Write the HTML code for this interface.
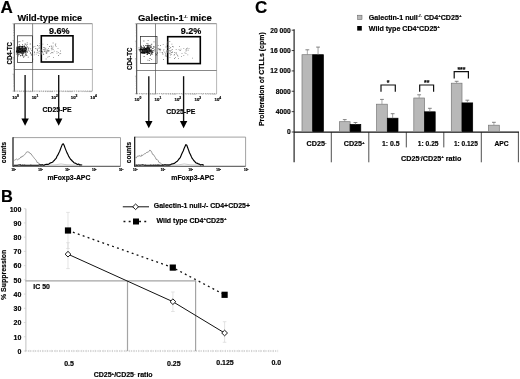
<!DOCTYPE html>
<html><head><meta charset="utf-8"><title>Figure</title>
<style>html,body{margin:0;padding:0;background:#fff;overflow:hidden}svg{display:block}svg text{font-family:"Liberation Sans",sans-serif;font-weight:bold;fill:#000;stroke:#000;stroke-width:0.18px}</style>
</head><body>
<svg width="520" height="379" viewBox="0 0 520 379">
<rect width="520" height="379" fill="#fff"/>
<g id="fig" style="filter:blur(0.3px)">
<text x="0.6" y="12.7" font-size="17.0">A</text>
<text x="1.0" y="201.5" font-size="16.4">B</text>
<text x="255.0" y="13.2" font-size="17.0">C</text>
<line x1="14.3" y1="23.7" x2="14.3" y2="91.6" stroke="#222" stroke-width="0.9"/>
<line x1="14.3" y1="23.7" x2="92.39999999999999" y2="23.7" stroke="#666" stroke-width="0.8"/>
<line x1="92.39999999999999" y1="23.7" x2="92.39999999999999" y2="91.1" stroke="#999" stroke-width="0.7"/>
<line x1="14.3" y1="91.1" x2="92.39999999999999" y2="91.1" stroke="#888" stroke-width="0.8" stroke-dasharray="1.4 0.8"/>
<line x1="32.6" y1="23.7" x2="32.6" y2="91.1" stroke="#555" stroke-width="0.7"/>
<line x1="14.3" y1="69.5" x2="92.39999999999999" y2="69.5" stroke="#555" stroke-width="0.7"/>
<rect x="17.50" y="35.80" width="15.00" height="26.70" fill="none" stroke="#222" stroke-width="0.7"/>
<rect x="41.30" y="35.80" width="31.70" height="26.20" fill="none" stroke="#000" stroke-width="1.6"/>
<path d="M20.8 51.6h1.00v1.00h-1.00zM18.3 51.2h1.00v1.00h-1.00zM20.0 49.1h1.00v1.00h-1.00zM25.3 49.8h1.00v1.00h-1.00zM20.5 50.7h1.00v1.00h-1.00zM23.4 49.4h1.00v1.00h-1.00zM22.1 47.8h1.00v1.00h-1.00zM19.7 48.8h1.00v1.00h-1.00zM17.3 46.9h1.00v1.00h-1.00zM16.5 49.1h1.00v1.00h-1.00zM20.2 49.0h1.00v1.00h-1.00zM20.8 47.2h1.00v1.00h-1.00zM20.4 49.9h1.00v1.00h-1.00zM22.5 48.1h1.00v1.00h-1.00zM19.6 46.1h1.00v1.00h-1.00zM19.3 45.8h1.00v1.00h-1.00zM17.1 51.4h1.00v1.00h-1.00zM17.3 50.9h1.00v1.00h-1.00zM21.7 50.0h1.00v1.00h-1.00zM21.9 53.8h1.00v1.00h-1.00zM17.4 50.4h1.00v1.00h-1.00zM19.7 51.4h1.00v1.00h-1.00zM18.8 50.5h1.00v1.00h-1.00zM17.7 48.4h1.00v1.00h-1.00zM23.7 48.0h1.00v1.00h-1.00zM25.0 48.1h1.00v1.00h-1.00zM24.3 49.4h1.00v1.00h-1.00zM23.2 52.4h1.00v1.00h-1.00zM25.9 48.7h1.00v1.00h-1.00zM17.0 48.4h1.00v1.00h-1.00zM21.7 52.6h1.00v1.00h-1.00zM18.8 48.9h1.00v1.00h-1.00zM25.1 50.8h1.00v1.00h-1.00zM21.7 49.5h1.00v1.00h-1.00zM21.4 47.8h1.00v1.00h-1.00zM21.8 50.7h1.00v1.00h-1.00zM21.2 46.1h1.00v1.00h-1.00zM23.9 50.1h1.00v1.00h-1.00zM24.4 50.3h1.00v1.00h-1.00zM18.1 52.6h1.00v1.00h-1.00zM23.5 49.3h1.00v1.00h-1.00zM22.8 49.5h1.00v1.00h-1.00zM23.6 50.6h1.00v1.00h-1.00zM22.2 49.7h1.00v1.00h-1.00zM17.7 50.8h1.00v1.00h-1.00zM21.0 49.9h1.00v1.00h-1.00zM22.1 48.4h1.00v1.00h-1.00zM25.7 48.6h1.00v1.00h-1.00zM18.6 50.8h1.00v1.00h-1.00zM17.0 49.2h1.00v1.00h-1.00zM18.0 48.3h1.00v1.00h-1.00zM16.3 46.7h1.00v1.00h-1.00zM17.9 49.4h1.00v1.00h-1.00zM20.3 48.3h1.00v1.00h-1.00zM18.4 54.0h1.00v1.00h-1.00zM17.5 49.2h1.00v1.00h-1.00zM23.2 49.6h1.00v1.00h-1.00zM20.2 49.3h1.00v1.00h-1.00zM18.0 47.9h1.00v1.00h-1.00zM23.9 50.4h1.00v1.00h-1.00zM16.9 50.0h1.00v1.00h-1.00zM18.2 51.6h1.00v1.00h-1.00zM20.6 49.1h1.00v1.00h-1.00zM24.1 50.4h1.00v1.00h-1.00zM22.5 49.2h1.00v1.00h-1.00zM17.4 50.1h1.00v1.00h-1.00zM19.6 51.0h1.00v1.00h-1.00zM19.7 51.0h1.00v1.00h-1.00zM18.9 48.7h1.00v1.00h-1.00zM17.5 51.5h1.00v1.00h-1.00zM23.8 49.9h1.00v1.00h-1.00zM20.4 48.0h1.00v1.00h-1.00zM21.4 52.5h1.00v1.00h-1.00zM20.7 50.6h1.00v1.00h-1.00zM17.0 50.5h1.00v1.00h-1.00zM22.4 50.4h1.00v1.00h-1.00zM18.2 52.3h1.00v1.00h-1.00zM16.0 50.8h1.00v1.00h-1.00zM21.7 50.8h1.00v1.00h-1.00zM17.6 46.6h1.00v1.00h-1.00zM18.9 49.9h1.00v1.00h-1.00zM22.8 50.9h1.00v1.00h-1.00zM22.2 52.4h1.00v1.00h-1.00zM21.4 48.6h1.00v1.00h-1.00zM19.8 52.5h1.00v1.00h-1.00zM17.8 47.1h1.00v1.00h-1.00zM19.9 50.2h1.00v1.00h-1.00zM19.4 52.4h1.00v1.00h-1.00zM20.3 51.1h1.00v1.00h-1.00zM18.3 50.4h1.00v1.00h-1.00zM15.9 51.6h1.00v1.00h-1.00zM20.7 49.6h1.00v1.00h-1.00zM25.4 48.3h1.00v1.00h-1.00zM23.3 49.4h1.00v1.00h-1.00zM26.0 48.3h1.00v1.00h-1.00zM21.3 52.3h1.00v1.00h-1.00zM22.5 47.4h1.00v1.00h-1.00zM18.5 49.3h1.00v1.00h-1.00zM19.6 50.5h1.00v1.00h-1.00zM23.6 50.4h1.00v1.00h-1.00zM19.5 52.5h1.00v1.00h-1.00zM25.8 50.5h1.00v1.00h-1.00zM18.6 45.9h1.00v1.00h-1.00zM24.9 47.3h1.00v1.00h-1.00zM20.2 49.4h1.00v1.00h-1.00zM20.6 48.5h1.00v1.00h-1.00zM19.5 51.9h1.00v1.00h-1.00zM18.0 49.2h1.00v1.00h-1.00zM23.8 48.6h1.00v1.00h-1.00zM19.6 50.6h1.00v1.00h-1.00zM22.4 48.0h1.00v1.00h-1.00zM21.1 47.9h1.00v1.00h-1.00zM21.6 51.5h1.00v1.00h-1.00zM21.2 48.5h1.00v1.00h-1.00zM22.1 45.8h1.00v1.00h-1.00zM22.2 46.5h1.00v1.00h-1.00zM24.1 49.6h1.00v1.00h-1.00zM21.1 49.1h1.00v1.00h-1.00zM20.3 50.8h1.00v1.00h-1.00zM18.0 49.2h1.00v1.00h-1.00zM16.3 50.0h1.00v1.00h-1.00zM21.4 49.5h1.00v1.00h-1.00zM21.5 50.1h1.00v1.00h-1.00zM26.8 51.4h1.00v1.00h-1.00zM21.2 48.9h1.00v1.00h-1.00zM18.4 49.5h1.00v1.00h-1.00zM19.7 51.0h1.00v1.00h-1.00zM18.6 47.7h1.00v1.00h-1.00zM19.6 50.3h1.00v1.00h-1.00zM20.0 50.3h1.00v1.00h-1.00zM16.9 48.6h1.00v1.00h-1.00zM19.9 50.0h1.00v1.00h-1.00zM21.6 51.0h1.00v1.00h-1.00zM17.1 47.7h1.00v1.00h-1.00zM17.3 51.6h1.00v1.00h-1.00zM18.7 48.2h1.00v1.00h-1.00zM18.6 50.9h1.00v1.00h-1.00zM19.8 47.8h1.00v1.00h-1.00zM19.6 47.7h1.00v1.00h-1.00zM20.7 51.6h1.00v1.00h-1.00zM20.3 48.9h1.00v1.00h-1.00zM18.3 50.3h1.00v1.00h-1.00zM24.9 46.8h1.00v1.00h-1.00zM16.8 52.1h1.00v1.00h-1.00zM21.1 48.2h1.00v1.00h-1.00zM19.4 49.7h1.00v1.00h-1.00zM22.0 47.2h1.00v1.00h-1.00zM24.0 47.5h1.00v1.00h-1.00zM18.6 47.1h1.00v1.00h-1.00zM19.5 49.2h1.00v1.00h-1.00zM20.4 49.4h1.00v1.00h-1.00zM23.3 51.8h1.00v1.00h-1.00zM21.7 49.7h1.00v1.00h-1.00zM24.8 51.5h1.00v1.00h-1.00zM20.8 49.8h1.00v1.00h-1.00zM21.3 48.8h1.00v1.00h-1.00zM22.7 47.4h1.00v1.00h-1.00zM23.8 45.9h1.00v1.00h-1.00zM16.7 48.0h1.00v1.00h-1.00zM24.8 50.2h1.00v1.00h-1.00zM16.6 49.3h1.00v1.00h-1.00zM23.9 51.3h1.00v1.00h-1.00zM21.4 49.3h1.00v1.00h-1.00zM19.2 51.5h1.00v1.00h-1.00zM21.5 48.4h1.00v1.00h-1.00zM21.4 50.7h1.00v1.00h-1.00zM17.5 47.6h1.00v1.00h-1.00zM18.7 50.5h1.00v1.00h-1.00zM18.8 50.5h1.00v1.00h-1.00zM19.7 49.8h1.00v1.00h-1.00zM16.3 49.5h1.00v1.00h-1.00zM20.6 48.5h1.00v1.00h-1.00zM19.1 46.8h1.00v1.00h-1.00zM19.2 47.7h1.00v1.00h-1.00zM17.0 49.7h1.00v1.00h-1.00z" fill="#0a0a0a"/>
<path d="M25.7 48.5h0.80v0.80h-0.80zM29.9 53.3h0.80v0.80h-0.80zM28.4 47.6h0.80v0.80h-0.80zM16.7 51.9h0.80v0.80h-0.80zM25.0 52.5h0.80v0.80h-0.80zM25.5 54.5h0.80v0.80h-0.80zM22.3 52.3h0.80v0.80h-0.80zM19.5 41.3h0.80v0.80h-0.80zM21.6 55.3h0.80v0.80h-0.80zM15.9 53.6h0.80v0.80h-0.80zM20.5 48.3h0.80v0.80h-0.80zM23.8 50.6h0.80v0.80h-0.80zM19.1 50.3h0.80v0.80h-0.80zM25.6 52.9h0.80v0.80h-0.80zM20.1 55.5h0.80v0.80h-0.80zM32.4 58.7h0.80v0.80h-0.80zM17.4 50.4h0.80v0.80h-0.80zM26.2 45.5h0.80v0.80h-0.80zM16.3 50.5h0.80v0.80h-0.80zM26.5 46.9h0.80v0.80h-0.80zM22.4 40.5h0.80v0.80h-0.80zM20.3 50.3h0.80v0.80h-0.80zM24.3 55.7h0.80v0.80h-0.80zM18.4 41.5h0.80v0.80h-0.80zM25.7 47.6h0.80v0.80h-0.80zM24.9 52.5h0.80v0.80h-0.80zM26.4 55.1h0.80v0.80h-0.80zM29.8 43.6h0.80v0.80h-0.80zM23.3 57.2h0.80v0.80h-0.80zM21.7 53.4h0.80v0.80h-0.80zM23.3 48.2h0.80v0.80h-0.80zM30.9 53.7h0.80v0.80h-0.80zM22.5 53.2h0.80v0.80h-0.80zM17.6 47.1h0.80v0.80h-0.80zM27.7 49.9h0.80v0.80h-0.80zM18.7 51.5h0.80v0.80h-0.80zM25.1 54.6h0.80v0.80h-0.80zM28.0 48.8h0.80v0.80h-0.80zM21.4 49.3h0.80v0.80h-0.80zM22.5 55.2h0.80v0.80h-0.80zM30.9 54.8h0.80v0.80h-0.80zM25.3 48.9h0.80v0.80h-0.80zM27.8 48.5h0.80v0.80h-0.80zM24.7 43.6h0.80v0.80h-0.80zM21.7 55.1h0.80v0.80h-0.80zM18.9 44.3h0.80v0.80h-0.80zM22.8 56.0h0.80v0.80h-0.80zM30.3 48.5h0.80v0.80h-0.80zM21.4 49.4h0.80v0.80h-0.80zM19.3 49.9h0.80v0.80h-0.80zM22.2 44.3h0.80v0.80h-0.80zM20.9 48.8h0.80v0.80h-0.80zM19.6 45.7h0.80v0.80h-0.80zM27.8 56.8h0.80v0.80h-0.80zM22.3 48.2h0.80v0.80h-0.80zM25.9 49.0h0.80v0.80h-0.80zM20.0 54.9h0.80v0.80h-0.80zM18.8 47.1h0.80v0.80h-0.80zM20.5 46.5h0.80v0.80h-0.80zM22.5 51.9h0.80v0.80h-0.80zM30.2 52.3h0.80v0.80h-0.80zM23.8 45.2h0.80v0.80h-0.80zM23.3 46.3h0.80v0.80h-0.80zM23.2 53.4h0.80v0.80h-0.80zM24.5 49.0h0.80v0.80h-0.80zM20.1 49.7h0.80v0.80h-0.80zM24.1 46.4h0.80v0.80h-0.80zM21.3 53.1h0.80v0.80h-0.80zM16.0 48.2h0.80v0.80h-0.80zM18.2 55.5h0.80v0.80h-0.80zM26.4 51.7h0.80v0.80h-0.80zM25.4 50.9h0.80v0.80h-0.80zM24.9 43.9h0.80v0.80h-0.80zM24.8 52.0h0.80v0.80h-0.80zM17.0 52.9h0.80v0.80h-0.80zM26.7 44.2h0.80v0.80h-0.80zM21.4 48.7h0.80v0.80h-0.80zM21.2 51.2h0.80v0.80h-0.80zM17.7 49.0h0.80v0.80h-0.80zM24.6 52.5h0.80v0.80h-0.80zM23.8 48.9h0.80v0.80h-0.80zM26.8 42.4h0.80v0.80h-0.80zM27.9 48.7h0.80v0.80h-0.80zM17.8 48.2h0.80v0.80h-0.80zM22.1 46.9h0.80v0.80h-0.80zM27.0 46.5h0.80v0.80h-0.80zM17.6 46.3h0.80v0.80h-0.80zM31.5 49.9h0.80v0.80h-0.80zM20.8 46.1h0.80v0.80h-0.80zM18.5 49.2h0.80v0.80h-0.80zM25.6 54.1h0.80v0.80h-0.80zM28.9 50.8h0.80v0.80h-0.80zM20.6 46.6h0.80v0.80h-0.80z" fill="#3a3a3a"/>
<path d="M47.4 56.8h0.80v0.80h-0.80zM38.5 48.3h0.80v0.80h-0.80zM52.8 49.3h0.80v0.80h-0.80zM43.6 49.4h0.80v0.80h-0.80zM41.0 53.7h0.80v0.80h-0.80zM57.9 52.0h0.80v0.80h-0.80zM42.9 53.6h0.80v0.80h-0.80zM38.5 46.4h0.80v0.80h-0.80zM54.9 44.0h0.80v0.80h-0.80zM50.8 45.6h0.80v0.80h-0.80zM51.4 46.8h0.80v0.80h-0.80zM58.0 55.1h0.80v0.80h-0.80zM55.1 45.0h0.80v0.80h-0.80zM45.8 52.2h0.80v0.80h-0.80zM37.7 51.4h0.80v0.80h-0.80zM40.3 50.5h0.80v0.80h-0.80zM39.3 45.0h0.80v0.80h-0.80zM46.8 50.2h0.80v0.80h-0.80zM44.7 48.4h0.80v0.80h-0.80zM45.4 47.8h0.80v0.80h-0.80zM51.8 48.4h0.80v0.80h-0.80zM56.5 51.3h0.80v0.80h-0.80zM50.9 48.0h0.80v0.80h-0.80zM46.7 52.5h0.80v0.80h-0.80zM48.0 50.1h0.80v0.80h-0.80zM40.5 50.3h0.80v0.80h-0.80zM52.6 52.4h0.80v0.80h-0.80zM40.1 53.0h0.80v0.80h-0.80zM40.5 51.7h0.80v0.80h-0.80zM39.5 53.0h0.80v0.80h-0.80zM34.1 51.6h0.80v0.80h-0.80zM45.9 51.4h0.80v0.80h-0.80zM35.8 53.7h0.80v0.80h-0.80zM44.4 50.6h0.80v0.80h-0.80zM50.4 53.3h0.80v0.80h-0.80zM44.2 51.2h0.80v0.80h-0.80zM34.1 52.4h0.80v0.80h-0.80zM37.2 49.6h0.80v0.80h-0.80zM45.6 52.5h0.80v0.80h-0.80zM43.3 54.1h0.80v0.80h-0.80zM38.2 55.1h0.80v0.80h-0.80zM41.9 51.8h0.80v0.80h-0.80zM52.7 42.6h0.80v0.80h-0.80zM42.5 51.8h0.80v0.80h-0.80zM41.4 49.5h0.80v0.80h-0.80zM48.7 56.1h0.80v0.80h-0.80zM43.3 54.3h0.80v0.80h-0.80zM60.3 52.9h0.80v0.80h-0.80zM47.9 50.9h0.80v0.80h-0.80zM37.1 50.1h0.80v0.80h-0.80zM39.5 51.2h0.80v0.80h-0.80zM49.3 50.4h0.80v0.80h-0.80zM56.6 52.8h0.80v0.80h-0.80zM45.7 58.6h0.80v0.80h-0.80zM53.2 56.9h0.80v0.80h-0.80zM34.5 46.2h0.80v0.80h-0.80zM42.5 43.8h0.80v0.80h-0.80zM37.0 45.1h0.80v0.80h-0.80zM42.3 51.1h0.80v0.80h-0.80zM44.1 48.8h0.80v0.80h-0.80zM43.1 46.9h0.80v0.80h-0.80zM39.6 43.2h0.80v0.80h-0.80zM51.4 49.5h0.80v0.80h-0.80zM47.1 43.9h0.80v0.80h-0.80zM57.6 47.9h0.80v0.80h-0.80zM41.0 52.7h0.80v0.80h-0.80zM52.5 47.5h0.80v0.80h-0.80zM39.5 50.4h0.80v0.80h-0.80zM50.9 46.0h0.80v0.80h-0.80zM44.1 46.9h0.80v0.80h-0.80zM45.9 53.1h0.80v0.80h-0.80zM33.8 54.4h0.80v0.80h-0.80zM45.5 50.4h0.80v0.80h-0.80zM37.3 45.1h0.80v0.80h-0.80zM41.1 52.7h0.80v0.80h-0.80zM55.7 46.2h0.80v0.80h-0.80zM55.4 43.4h0.80v0.80h-0.80zM51.2 52.3h0.80v0.80h-0.80zM43.1 49.2h0.80v0.80h-0.80zM44.3 51.0h0.80v0.80h-0.80zM59.4 53.5h0.80v0.80h-0.80zM37.7 52.7h0.80v0.80h-0.80zM36.7 48.6h0.80v0.80h-0.80zM35.3 48.1h0.80v0.80h-0.80zM39.0 47.4h0.80v0.80h-0.80zM32.9 46.6h0.80v0.80h-0.80zM41.0 52.4h0.80v0.80h-0.80zM47.3 49.6h0.80v0.80h-0.80zM44.6 51.0h0.80v0.80h-0.80zM52.7 45.7h0.80v0.80h-0.80zM46.8 50.9h0.80v0.80h-0.80zM36.6 52.0h0.80v0.80h-0.80zM53.8 50.7h0.80v0.80h-0.80zM60.1 50.6h0.80v0.80h-0.80zM40.2 51.2h0.80v0.80h-0.80zM45.5 49.2h0.80v0.80h-0.80zM40.8 52.3h0.80v0.80h-0.80zM49.0 46.1h0.80v0.80h-0.80zM51.9 52.2h0.80v0.80h-0.80zM48.2 47.9h0.80v0.80h-0.80z" fill="#777"/>
<path d="M12.5 91.1h1.8M12.5 74.2h1.8M12.5 57.4h1.8M12.5 40.5h1.8M12.5 23.7h1.8M13.3 86.0h1M13.3 83.1h1M13.3 81.0h1M13.3 79.3h1M13.3 78.0h1M13.3 76.9h1M13.3 75.9h1M13.3 75.0h1M13.3 69.2h1M13.3 66.2h1M13.3 64.1h1M13.3 62.5h1M13.3 61.1h1M13.3 60.0h1M13.3 59.0h1M13.3 58.2h1M13.3 52.3h1M13.3 49.4h1M13.3 47.3h1M13.3 45.6h1M13.3 44.3h1M13.3 43.2h1M13.3 42.2h1M13.3 41.3h1M13.3 35.5h1M13.3 32.5h1M13.3 30.4h1M13.3 28.8h1M13.3 27.4h1M13.3 26.3h1M13.3 25.3h1M13.3 24.5h1M20.2 91.1v1M23.6 91.1v1M26.1 91.1v1M27.9 91.1v1M29.5 91.1v1M30.8 91.1v1M31.9 91.1v1M32.9 91.1v1M39.7 91.1v1M43.1 91.1v1M45.6 91.1v1M47.5 91.1v1M49.0 91.1v1M50.3 91.1v1M51.5 91.1v1M52.5 91.1v1M59.2 91.1v1M62.7 91.1v1M65.1 91.1v1M67.0 91.1v1M68.5 91.1v1M69.9 91.1v1M71.0 91.1v1M72.0 91.1v1M78.8 91.1v1M82.2 91.1v1M84.6 91.1v1M86.5 91.1v1M88.1 91.1v1M89.4 91.1v1M90.5 91.1v1M91.5 91.1v1" stroke="#666" stroke-width="0.4" fill="none"/>
<text x="12.2" y="98.8" font-size="4.3" font-weight="normal" fill="#111" stroke-width="0.1">10<tspan font-size="3.3" dy="-1.9">0</tspan></text>
<text x="31.7" y="98.8" font-size="4.3" font-weight="normal" fill="#111" stroke-width="0.1">10<tspan font-size="3.3" dy="-1.9">1</tspan></text>
<text x="51.2" y="98.8" font-size="4.3" font-weight="normal" fill="#111" stroke-width="0.1">10<tspan font-size="3.3" dy="-1.9">2</tspan></text>
<text x="70.8" y="98.8" font-size="4.3" font-weight="normal" fill="#111" stroke-width="0.1">10<tspan font-size="3.3" dy="-1.9">3</tspan></text>
<text x="90.3" y="98.8" font-size="4.3" font-weight="normal" fill="#111" stroke-width="0.1">10<tspan font-size="3.3" dy="-1.9">4</tspan></text>
<text x="17.4" y="20.5" font-size="9.1" textLength="64.8" lengthAdjust="spacingAndGlyphs">Wild-type mice</text>
<text x="49" y="33.8" font-size="9.9" textLength="20.6" lengthAdjust="spacingAndGlyphs">9.6%</text>
<text transform="translate(12.3,64.5) rotate(-90)" font-size="6.6" textLength="22.5" lengthAdjust="spacingAndGlyphs">CD4-TC</text>
<text x="42.6" y="112.4" font-size="6.9" textLength="29" lengthAdjust="spacingAndGlyphs">CD25-PE</text>
<line x1="25.1" y1="75" x2="25.1" y2="120.7" stroke="#111" stroke-width="1.35"/>
<path d="M21.400000000000002 118.5L28.8 118.5L25.1 125.7z" fill="#000"/>
<line x1="58.7" y1="75" x2="58.7" y2="120.7" stroke="#111" stroke-width="1.35"/>
<path d="M55.0 118.5L62.400000000000006 118.5L58.7 125.7z" fill="#000"/>
<line x1="136.7" y1="23.7" x2="136.7" y2="94.2" stroke="#222" stroke-width="0.9"/>
<line x1="136.7" y1="23.7" x2="216.6" y2="23.7" stroke="#666" stroke-width="0.8"/>
<line x1="216.6" y1="23.7" x2="216.6" y2="93.7" stroke="#999" stroke-width="0.7"/>
<line x1="136.7" y1="93.7" x2="216.6" y2="93.7" stroke="#888" stroke-width="0.8" stroke-dasharray="1.4 0.8"/>
<line x1="155.5" y1="23.7" x2="155.5" y2="93.7" stroke="#555" stroke-width="0.7"/>
<line x1="136.7" y1="70.5" x2="216.6" y2="70.5" stroke="#555" stroke-width="0.7"/>
<rect x="140.50" y="36.40" width="16.50" height="27.10" fill="none" stroke="#222" stroke-width="0.7"/>
<rect x="167.70" y="36.70" width="32.60" height="26.90" fill="none" stroke="#000" stroke-width="1.6"/>
<path d="M144.9 50.9h1.00v1.00h-1.00zM144.9 49.5h1.00v1.00h-1.00zM143.2 49.6h1.00v1.00h-1.00zM148.3 50.7h1.00v1.00h-1.00zM148.1 50.4h1.00v1.00h-1.00zM146.5 50.3h1.00v1.00h-1.00zM141.3 51.5h1.00v1.00h-1.00zM146.8 50.8h1.00v1.00h-1.00zM141.3 47.0h1.00v1.00h-1.00zM143.3 49.2h1.00v1.00h-1.00zM146.3 49.9h1.00v1.00h-1.00zM146.8 48.9h1.00v1.00h-1.00zM146.3 50.7h1.00v1.00h-1.00zM143.8 52.9h1.00v1.00h-1.00zM146.9 52.0h1.00v1.00h-1.00zM143.9 48.7h1.00v1.00h-1.00zM144.6 49.8h1.00v1.00h-1.00zM147.1 50.4h1.00v1.00h-1.00zM144.4 48.4h1.00v1.00h-1.00zM144.2 52.1h1.00v1.00h-1.00zM143.5 50.4h1.00v1.00h-1.00zM146.6 47.5h1.00v1.00h-1.00zM145.6 52.2h1.00v1.00h-1.00zM140.5 49.5h1.00v1.00h-1.00zM145.2 48.6h1.00v1.00h-1.00zM146.7 49.9h1.00v1.00h-1.00zM141.8 51.4h1.00v1.00h-1.00zM147.2 51.6h1.00v1.00h-1.00zM149.1 50.6h1.00v1.00h-1.00zM145.8 47.8h1.00v1.00h-1.00zM147.0 49.0h1.00v1.00h-1.00zM144.4 47.8h1.00v1.00h-1.00zM143.1 49.1h1.00v1.00h-1.00zM148.7 46.5h1.00v1.00h-1.00zM141.9 50.4h1.00v1.00h-1.00zM149.1 51.0h1.00v1.00h-1.00zM140.8 45.7h1.00v1.00h-1.00zM146.4 48.7h1.00v1.00h-1.00zM142.7 51.7h1.00v1.00h-1.00zM148.3 50.3h1.00v1.00h-1.00zM146.1 50.7h1.00v1.00h-1.00zM149.5 51.1h1.00v1.00h-1.00zM146.8 50.9h1.00v1.00h-1.00zM141.6 52.2h1.00v1.00h-1.00zM147.9 50.9h1.00v1.00h-1.00zM140.6 48.9h1.00v1.00h-1.00zM147.6 46.9h1.00v1.00h-1.00zM145.0 51.7h1.00v1.00h-1.00zM142.2 52.7h1.00v1.00h-1.00zM146.9 49.7h1.00v1.00h-1.00zM146.3 51.1h1.00v1.00h-1.00zM145.8 51.9h1.00v1.00h-1.00zM143.8 49.3h1.00v1.00h-1.00zM148.1 50.0h1.00v1.00h-1.00zM143.3 51.6h1.00v1.00h-1.00zM149.2 49.2h1.00v1.00h-1.00zM142.1 49.8h1.00v1.00h-1.00zM145.1 49.5h1.00v1.00h-1.00zM149.0 48.3h1.00v1.00h-1.00zM148.7 47.8h1.00v1.00h-1.00zM143.5 51.1h1.00v1.00h-1.00zM148.3 51.5h1.00v1.00h-1.00zM146.4 50.2h1.00v1.00h-1.00zM145.9 51.0h1.00v1.00h-1.00zM145.1 50.5h1.00v1.00h-1.00zM146.9 50.0h1.00v1.00h-1.00zM147.4 51.0h1.00v1.00h-1.00zM150.5 50.6h1.00v1.00h-1.00zM144.4 49.4h1.00v1.00h-1.00zM145.5 51.6h1.00v1.00h-1.00zM144.7 50.7h1.00v1.00h-1.00zM150.1 45.6h1.00v1.00h-1.00zM142.7 50.4h1.00v1.00h-1.00zM146.5 50.4h1.00v1.00h-1.00zM144.4 51.1h1.00v1.00h-1.00zM146.2 49.1h1.00v1.00h-1.00zM151.6 50.6h1.00v1.00h-1.00zM144.1 49.8h1.00v1.00h-1.00zM144.9 49.9h1.00v1.00h-1.00zM138.7 49.2h1.00v1.00h-1.00zM148.0 48.0h1.00v1.00h-1.00zM145.3 51.6h1.00v1.00h-1.00zM147.6 52.5h1.00v1.00h-1.00zM141.2 49.4h1.00v1.00h-1.00zM144.6 51.1h1.00v1.00h-1.00zM148.2 45.4h1.00v1.00h-1.00zM148.2 47.5h1.00v1.00h-1.00zM147.2 47.5h1.00v1.00h-1.00zM145.9 52.0h1.00v1.00h-1.00zM145.1 50.3h1.00v1.00h-1.00zM147.5 50.2h1.00v1.00h-1.00zM145.3 52.6h1.00v1.00h-1.00zM148.1 49.5h1.00v1.00h-1.00zM152.4 48.1h1.00v1.00h-1.00zM147.8 49.5h1.00v1.00h-1.00zM145.8 51.2h1.00v1.00h-1.00zM146.1 51.1h1.00v1.00h-1.00zM141.7 47.4h1.00v1.00h-1.00zM147.0 48.4h1.00v1.00h-1.00zM142.9 47.5h1.00v1.00h-1.00zM148.7 51.3h1.00v1.00h-1.00zM149.2 48.4h1.00v1.00h-1.00zM145.5 48.1h1.00v1.00h-1.00zM147.4 52.7h1.00v1.00h-1.00zM143.3 52.7h1.00v1.00h-1.00zM148.0 49.7h1.00v1.00h-1.00zM140.6 52.4h1.00v1.00h-1.00zM145.3 49.0h1.00v1.00h-1.00zM146.5 50.7h1.00v1.00h-1.00zM149.2 48.3h1.00v1.00h-1.00zM148.3 52.5h1.00v1.00h-1.00zM149.1 49.7h1.00v1.00h-1.00zM143.6 51.7h1.00v1.00h-1.00zM145.8 50.2h1.00v1.00h-1.00zM149.1 49.6h1.00v1.00h-1.00zM139.8 49.3h1.00v1.00h-1.00zM140.9 51.4h1.00v1.00h-1.00zM146.3 49.0h1.00v1.00h-1.00zM145.5 51.4h1.00v1.00h-1.00zM145.7 52.3h1.00v1.00h-1.00zM145.3 51.8h1.00v1.00h-1.00zM149.2 52.7h1.00v1.00h-1.00zM143.8 51.5h1.00v1.00h-1.00zM140.8 48.2h1.00v1.00h-1.00zM140.6 51.8h1.00v1.00h-1.00zM142.4 50.0h1.00v1.00h-1.00zM145.0 50.0h1.00v1.00h-1.00zM144.0 50.4h1.00v1.00h-1.00zM150.0 50.1h1.00v1.00h-1.00zM146.8 51.7h1.00v1.00h-1.00zM145.0 47.9h1.00v1.00h-1.00zM144.1 51.8h1.00v1.00h-1.00zM141.4 49.0h1.00v1.00h-1.00zM148.0 51.3h1.00v1.00h-1.00zM145.5 51.4h1.00v1.00h-1.00zM145.9 48.0h1.00v1.00h-1.00zM141.6 48.9h1.00v1.00h-1.00zM147.8 49.0h1.00v1.00h-1.00zM143.2 48.7h1.00v1.00h-1.00zM141.7 49.8h1.00v1.00h-1.00zM142.6 50.6h1.00v1.00h-1.00zM139.6 50.6h1.00v1.00h-1.00zM143.9 46.7h1.00v1.00h-1.00zM147.3 49.5h1.00v1.00h-1.00zM139.9 48.5h1.00v1.00h-1.00zM146.2 49.2h1.00v1.00h-1.00zM147.4 51.3h1.00v1.00h-1.00zM147.2 50.6h1.00v1.00h-1.00zM148.8 51.1h1.00v1.00h-1.00zM146.6 46.5h1.00v1.00h-1.00zM147.7 52.2h1.00v1.00h-1.00zM144.8 49.2h1.00v1.00h-1.00zM150.4 47.0h1.00v1.00h-1.00zM146.7 54.1h1.00v1.00h-1.00zM143.2 51.2h1.00v1.00h-1.00zM150.2 49.8h1.00v1.00h-1.00zM146.9 51.5h1.00v1.00h-1.00zM143.2 49.8h1.00v1.00h-1.00zM146.2 51.4h1.00v1.00h-1.00zM145.4 49.7h1.00v1.00h-1.00zM143.0 49.4h1.00v1.00h-1.00zM147.7 50.2h1.00v1.00h-1.00zM143.4 48.6h1.00v1.00h-1.00zM152.2 51.9h1.00v1.00h-1.00zM147.1 45.6h1.00v1.00h-1.00zM147.1 50.8h1.00v1.00h-1.00zM149.7 50.7h1.00v1.00h-1.00zM145.3 50.9h1.00v1.00h-1.00zM140.6 51.8h1.00v1.00h-1.00zM146.3 48.8h1.00v1.00h-1.00zM148.8 53.1h1.00v1.00h-1.00zM142.0 48.9h1.00v1.00h-1.00zM146.2 50.3h1.00v1.00h-1.00zM144.5 48.3h1.00v1.00h-1.00zM150.8 51.8h1.00v1.00h-1.00z" fill="#0a0a0a"/>
<path d="M143.0 45.3h0.80v0.80h-0.80zM156.3 54.0h0.80v0.80h-0.80zM156.9 53.3h0.80v0.80h-0.80zM144.5 51.3h0.80v0.80h-0.80zM138.6 47.5h0.80v0.80h-0.80zM148.2 52.2h0.80v0.80h-0.80zM145.2 49.8h0.80v0.80h-0.80zM150.6 51.7h0.80v0.80h-0.80zM151.4 51.1h0.80v0.80h-0.80zM147.0 53.2h0.80v0.80h-0.80zM148.7 47.2h0.80v0.80h-0.80zM145.6 50.3h0.80v0.80h-0.80zM148.0 50.9h0.80v0.80h-0.80zM148.5 51.0h0.80v0.80h-0.80zM147.9 45.6h0.80v0.80h-0.80zM150.4 54.2h0.80v0.80h-0.80zM150.5 49.6h0.80v0.80h-0.80zM150.6 46.7h0.80v0.80h-0.80zM139.8 50.5h0.80v0.80h-0.80zM144.2 53.0h0.80v0.80h-0.80zM143.5 40.6h0.80v0.80h-0.80zM143.7 56.1h0.80v0.80h-0.80zM146.7 45.2h0.80v0.80h-0.80zM145.0 52.2h0.80v0.80h-0.80zM150.8 51.0h0.80v0.80h-0.80zM155.3 52.9h0.80v0.80h-0.80zM148.4 52.5h0.80v0.80h-0.80zM156.1 53.9h0.80v0.80h-0.80zM153.2 46.3h0.80v0.80h-0.80zM147.8 53.0h0.80v0.80h-0.80zM147.1 54.3h0.80v0.80h-0.80zM151.2 53.7h0.80v0.80h-0.80zM147.5 59.7h0.80v0.80h-0.80zM154.2 49.5h0.80v0.80h-0.80zM148.9 59.9h0.80v0.80h-0.80zM146.9 53.5h0.80v0.80h-0.80zM153.0 50.3h0.80v0.80h-0.80zM143.1 51.0h0.80v0.80h-0.80zM150.2 54.5h0.80v0.80h-0.80zM152.1 50.4h0.80v0.80h-0.80zM152.4 52.3h0.80v0.80h-0.80zM149.4 50.5h0.80v0.80h-0.80zM147.4 52.8h0.80v0.80h-0.80zM143.7 48.0h0.80v0.80h-0.80zM148.5 44.9h0.80v0.80h-0.80zM146.5 42.9h0.80v0.80h-0.80zM145.4 52.4h0.80v0.80h-0.80zM151.1 50.1h0.80v0.80h-0.80zM147.4 45.1h0.80v0.80h-0.80zM156.9 52.2h0.80v0.80h-0.80zM153.5 47.0h0.80v0.80h-0.80zM147.6 43.6h0.80v0.80h-0.80zM152.1 53.8h0.80v0.80h-0.80zM139.8 50.1h0.80v0.80h-0.80zM151.4 43.8h0.80v0.80h-0.80zM140.1 46.4h0.80v0.80h-0.80zM145.6 45.1h0.80v0.80h-0.80zM148.6 51.2h0.80v0.80h-0.80zM151.4 52.9h0.80v0.80h-0.80zM155.4 54.6h0.80v0.80h-0.80zM142.5 48.4h0.80v0.80h-0.80zM143.6 46.3h0.80v0.80h-0.80zM148.1 50.3h0.80v0.80h-0.80zM150.8 44.4h0.80v0.80h-0.80zM142.8 50.2h0.80v0.80h-0.80zM147.6 49.1h0.80v0.80h-0.80zM148.2 47.5h0.80v0.80h-0.80zM151.7 51.6h0.80v0.80h-0.80zM148.1 47.8h0.80v0.80h-0.80zM147.7 40.2h0.80v0.80h-0.80zM144.0 50.4h0.80v0.80h-0.80zM141.6 51.0h0.80v0.80h-0.80zM149.2 45.2h0.80v0.80h-0.80zM147.3 49.1h0.80v0.80h-0.80zM150.6 52.6h0.80v0.80h-0.80zM148.3 47.2h0.80v0.80h-0.80zM147.8 50.1h0.80v0.80h-0.80zM151.9 51.4h0.80v0.80h-0.80zM145.2 45.3h0.80v0.80h-0.80zM146.8 47.6h0.80v0.80h-0.80zM143.4 49.9h0.80v0.80h-0.80zM146.2 50.7h0.80v0.80h-0.80zM150.9 48.8h0.80v0.80h-0.80zM159.2 49.1h0.80v0.80h-0.80zM153.6 50.8h0.80v0.80h-0.80zM153.6 41.5h0.80v0.80h-0.80zM145.0 51.2h0.80v0.80h-0.80zM151.3 58.9h0.80v0.80h-0.80zM150.0 55.0h0.80v0.80h-0.80zM152.0 53.8h0.80v0.80h-0.80zM150.8 49.7h0.80v0.80h-0.80zM150.8 46.3h0.80v0.80h-0.80zM153.9 46.5h0.80v0.80h-0.80zM149.6 58.1h0.80v0.80h-0.80zM147.5 50.4h0.80v0.80h-0.80z" fill="#3a3a3a"/>
<path d="M155.5 47.0h0.80v0.80h-0.80zM167.9 50.8h0.80v0.80h-0.80zM163.5 49.0h0.80v0.80h-0.80zM181.6 53.0h0.80v0.80h-0.80zM155.1 50.6h0.80v0.80h-0.80zM162.8 44.3h0.80v0.80h-0.80zM185.6 49.0h0.80v0.80h-0.80zM167.6 43.7h0.80v0.80h-0.80zM169.4 41.1h0.80v0.80h-0.80zM174.1 58.1h0.80v0.80h-0.80zM169.2 48.2h0.80v0.80h-0.80zM159.6 51.8h0.80v0.80h-0.80zM162.1 52.0h0.80v0.80h-0.80zM186.1 48.3h0.80v0.80h-0.80zM166.6 50.2h0.80v0.80h-0.80zM165.0 54.5h0.80v0.80h-0.80zM169.5 57.2h0.80v0.80h-0.80zM180.6 48.7h0.80v0.80h-0.80zM175.2 57.3h0.80v0.80h-0.80zM173.2 46.5h0.80v0.80h-0.80zM177.6 55.7h0.80v0.80h-0.80zM171.0 52.2h0.80v0.80h-0.80zM178.6 48.9h0.80v0.80h-0.80zM159.6 48.5h0.80v0.80h-0.80zM185.6 53.2h0.80v0.80h-0.80zM168.8 53.3h0.80v0.80h-0.80zM167.8 50.0h0.80v0.80h-0.80zM166.9 41.6h0.80v0.80h-0.80zM175.8 49.3h0.80v0.80h-0.80zM169.9 54.6h0.80v0.80h-0.80zM164.3 51.8h0.80v0.80h-0.80zM184.5 52.5h0.80v0.80h-0.80zM172.0 51.9h0.80v0.80h-0.80zM192.2 57.7h0.80v0.80h-0.80zM171.0 52.0h0.80v0.80h-0.80zM161.6 52.3h0.80v0.80h-0.80zM168.8 52.7h0.80v0.80h-0.80zM166.9 51.9h0.80v0.80h-0.80zM173.7 54.8h0.80v0.80h-0.80zM170.3 47.0h0.80v0.80h-0.80zM170.3 47.4h0.80v0.80h-0.80zM168.7 50.1h0.80v0.80h-0.80zM160.3 49.1h0.80v0.80h-0.80zM163.0 59.1h0.80v0.80h-0.80zM172.2 46.1h0.80v0.80h-0.80zM165.8 45.8h0.80v0.80h-0.80zM167.2 50.6h0.80v0.80h-0.80zM170.9 53.9h0.80v0.80h-0.80zM187.4 54.5h0.80v0.80h-0.80zM157.7 45.1h0.80v0.80h-0.80zM158.5 48.8h0.80v0.80h-0.80zM171.5 43.8h0.80v0.80h-0.80zM174.1 53.9h0.80v0.80h-0.80zM185.6 50.6h0.80v0.80h-0.80zM181.1 56.0h0.80v0.80h-0.80zM166.6 43.6h0.80v0.80h-0.80zM162.4 52.9h0.80v0.80h-0.80zM176.5 53.9h0.80v0.80h-0.80zM186.5 49.8h0.80v0.80h-0.80zM179.0 45.9h0.80v0.80h-0.80zM171.2 49.7h0.80v0.80h-0.80zM179.5 50.3h0.80v0.80h-0.80zM166.2 54.8h0.80v0.80h-0.80zM167.9 48.3h0.80v0.80h-0.80zM163.0 50.5h0.80v0.80h-0.80zM177.0 55.3h0.80v0.80h-0.80zM162.5 54.2h0.80v0.80h-0.80zM174.0 52.3h0.80v0.80h-0.80zM169.8 51.3h0.80v0.80h-0.80zM156.6 55.0h0.80v0.80h-0.80zM167.9 42.5h0.80v0.80h-0.80zM175.5 52.6h0.80v0.80h-0.80zM183.4 48.2h0.80v0.80h-0.80zM166.6 51.0h0.80v0.80h-0.80zM187.9 49.8h0.80v0.80h-0.80zM157.7 47.9h0.80v0.80h-0.80zM172.1 49.0h0.80v0.80h-0.80zM166.8 47.5h0.80v0.80h-0.80zM176.1 52.7h0.80v0.80h-0.80zM158.7 49.5h0.80v0.80h-0.80zM168.7 46.2h0.80v0.80h-0.80zM165.3 53.0h0.80v0.80h-0.80zM180.0 50.3h0.80v0.80h-0.80zM165.5 46.7h0.80v0.80h-0.80zM188.6 48.3h0.80v0.80h-0.80zM166.2 56.3h0.80v0.80h-0.80zM165.9 50.8h0.80v0.80h-0.80zM187.2 47.8h0.80v0.80h-0.80zM172.0 51.5h0.80v0.80h-0.80zM170.3 52.8h0.80v0.80h-0.80zM176.1 52.4h0.80v0.80h-0.80zM169.9 50.0h0.80v0.80h-0.80zM165.7 52.4h0.80v0.80h-0.80zM159.8 50.3h0.80v0.80h-0.80zM160.2 45.1h0.80v0.80h-0.80zM183.4 55.0h0.80v0.80h-0.80zM178.0 58.2h0.80v0.80h-0.80zM168.5 50.5h0.80v0.80h-0.80zM164.9 55.6h0.80v0.80h-0.80zM158.5 48.5h0.80v0.80h-0.80z" fill="#777"/>
<path d="M134.89999999999998 93.7h1.8M134.89999999999998 76.2h1.8M134.89999999999998 58.7h1.8M134.89999999999998 41.2h1.8M134.89999999999998 23.7h1.8M135.7 88.4h1M135.7 85.4h1M135.7 83.2h1M135.7 81.5h1M135.7 80.1h1M135.7 78.9h1M135.7 77.9h1M135.7 77.0h1M135.7 70.9h1M135.7 67.9h1M135.7 65.7h1M135.7 64.0h1M135.7 62.6h1M135.7 61.4h1M135.7 60.4h1M135.7 59.5h1M135.7 53.4h1M135.7 50.4h1M135.7 48.2h1M135.7 46.5h1M135.7 45.1h1M135.7 43.9h1M135.7 42.9h1M135.7 42.0h1M135.7 35.9h1M135.7 32.9h1M135.7 30.7h1M135.7 29.0h1M135.7 27.6h1M135.7 26.4h1M135.7 25.4h1M135.7 24.5h1M142.7 93.7v1M146.2 93.7v1M148.7 93.7v1M150.7 93.7v1M152.2 93.7v1M153.6 93.7v1M154.7 93.7v1M155.8 93.7v1M162.7 93.7v1M166.2 93.7v1M168.7 93.7v1M170.6 93.7v1M172.2 93.7v1M173.6 93.7v1M174.7 93.7v1M175.7 93.7v1M182.7 93.7v1M186.2 93.7v1M188.7 93.7v1M190.6 93.7v1M192.2 93.7v1M193.5 93.7v1M194.7 93.7v1M195.7 93.7v1M202.6 93.7v1M206.2 93.7v1M208.7 93.7v1M210.6 93.7v1M212.2 93.7v1M213.5 93.7v1M214.7 93.7v1M215.7 93.7v1" stroke="#666" stroke-width="0.4" fill="none"/>
<text x="134.6" y="100.9" font-size="4.3" font-weight="normal" fill="#111" stroke-width="0.1">10<tspan font-size="3.3" dy="-1.9">0</tspan></text>
<text x="154.6" y="100.9" font-size="4.3" font-weight="normal" fill="#111" stroke-width="0.1">10<tspan font-size="3.3" dy="-1.9">1</tspan></text>
<text x="174.5" y="100.9" font-size="4.3" font-weight="normal" fill="#111" stroke-width="0.1">10<tspan font-size="3.3" dy="-1.9">2</tspan></text>
<text x="194.5" y="100.9" font-size="4.3" font-weight="normal" fill="#111" stroke-width="0.1">10<tspan font-size="3.3" dy="-1.9">3</tspan></text>
<text x="214.5" y="100.9" font-size="4.3" font-weight="normal" fill="#111" stroke-width="0.1">10<tspan font-size="3.3" dy="-1.9">4</tspan></text>
<text x="138" y="20.5" font-size="9.45">Galectin-1<tspan font-size="4.2" dy="-2.3">-/-</tspan><tspan dy="2.3"> mice</tspan></text>
<text x="180.7" y="33.8" font-size="9.9" textLength="20.6" lengthAdjust="spacingAndGlyphs">9.2%</text>
<text transform="translate(132.4,70) rotate(-90)" font-size="6.6" textLength="22.5" lengthAdjust="spacingAndGlyphs">CD4-TC</text>
<text x="166.3" y="113.8" font-size="6.9" textLength="29" lengthAdjust="spacingAndGlyphs">CD25-PE</text>
<line x1="148.8" y1="76.2" x2="148.8" y2="123.19999999999999" stroke="#111" stroke-width="1.35"/>
<path d="M145.10000000000002 120.99999999999999L152.5 120.99999999999999L148.8 128.2z" fill="#000"/>
<line x1="183.6" y1="76.2" x2="183.6" y2="123.19999999999999" stroke="#111" stroke-width="1.35"/>
<path d="M179.9 120.99999999999999L187.29999999999998 120.99999999999999L183.6 128.2z" fill="#000"/>
<line x1="13.0" y1="137.6" x2="120.5" y2="137.6" stroke="#8a8a8a" stroke-width="0.8"/>
<line x1="120.5" y1="137.6" x2="120.5" y2="166.3" stroke="#8a8a8a" stroke-width="0.8"/>
<line x1="13.0" y1="166.3" x2="120.5" y2="166.3" stroke="#333" stroke-width="0.9"/>
<line x1="13.0" y1="137.29999999999998" x2="13.0" y2="166.70000000000002" stroke="#111" stroke-width="1.2"/>
<path d="M13.8 160.8L14.7 159.9L15.6 159.6L16.5 159.0L17.4 159.8L18.3 159.2L19.2 158.9L20.1 158.2L21.0 156.7L21.9 157.2L22.8 155.8L23.7 155.7L24.6 154.8L25.5 153.7L26.4 152.2L27.3 151.8L28.2 152.0L29.1 152.1L30.0 153.6L30.9 153.6L31.8 155.0L32.7 156.2L33.6 157.3L34.5 158.6L35.4 159.3L36.3 160.6L37.2 162.6L38.1 162.4L39.0 163.9L39.9 164.1L40.8 165.0" stroke="#777" stroke-width="0.75" fill="none"/>
<path d="M41 165.20000000000002L55 164.9Q61 163.00000000000003 67 164.8L80 165.20000000000002" stroke="#aaa" stroke-width="0.6" fill="none"/>
<path d="M13.8 165.2L14.7 165.2L15.6 165.2L16.5 165.2L17.4 165.2L18.3 165.0L19.2 165.0L20.1 164.9L21.0 165.1L21.9 165.2L22.8 165.0L23.7 165.2L24.6 165.1L25.5 165.2L26.4 165.2L27.3 165.2L28.2 165.2L29.1 165.2L30.0 165.2L30.9 165.1L31.8 165.2L32.7 165.2L33.6 165.2L34.5 165.2L35.4 165.2L36.3 165.2L37.2 165.2L38.1 165.2L39.0 165.0L39.9 164.8L40.8 165.1L41.7 164.9L42.6 164.7L43.5 165.2L44.4 165.1L45.3 164.5L46.2 164.4L47.1 164.3L48.0 164.4L48.9 164.0L49.8 163.3L50.7 162.9L51.6 162.5L52.5 162.3L53.4 161.1L54.3 160.5L55.2 159.2L56.1 158.4L57.0 156.3L57.9 154.9L58.8 152.9L59.7 151.2L60.6 148.7L61.5 146.4L62.4 144.2L63.3 143.8L64.2 145.5L65.1 148.1L66.0 150.4L66.9 152.6L67.8 154.2L68.7 156.4L69.6 157.8L70.5 159.3L71.4 160.0L72.3 161.0L73.2 161.8L74.1 162.8L75.0 163.1L75.9 163.6L76.8 164.1L77.7 164.5L78.6 164.0L79.5 164.8L80.4 164.8L81.3 165.0L82.2 164.8" stroke="#000" stroke-width="1.15" fill="none" stroke-linejoin="round"/>
<text transform="translate(5.6,163.2) rotate(-90)" font-size="6.8" textLength="21.3" lengthAdjust="spacingAndGlyphs">counts</text>
<text x="47.4" y="179.5" font-size="6.8" textLength="43" lengthAdjust="spacingAndGlyphs">mFoxp3-APC</text>
<text x="11.4" y="171.3" font-size="3" font-weight="normal" fill="#777" stroke="none">10<tspan font-size="2" dy="-1">0</tspan></text>
<text x="38.3" y="171.3" font-size="3" font-weight="normal" fill="#777" stroke="none">10<tspan font-size="2" dy="-1">1</tspan></text>
<text x="65.2" y="171.3" font-size="3" font-weight="normal" fill="#777" stroke="none">10<tspan font-size="2" dy="-1">2</tspan></text>
<text x="92.0" y="171.3" font-size="3" font-weight="normal" fill="#777" stroke="none">10<tspan font-size="2" dy="-1">3</tspan></text>
<text x="118.9" y="171.3" font-size="3" font-weight="normal" fill="#777" stroke="none">10<tspan font-size="2" dy="-1">4</tspan></text>
<line x1="134.7" y1="137.1" x2="245.6" y2="137.1" stroke="#8a8a8a" stroke-width="0.8"/>
<line x1="245.6" y1="137.1" x2="245.6" y2="166.3" stroke="#8a8a8a" stroke-width="0.8"/>
<line x1="134.7" y1="166.3" x2="245.6" y2="166.3" stroke="#333" stroke-width="0.9"/>
<line x1="134.7" y1="136.79999999999998" x2="134.7" y2="166.70000000000002" stroke="#111" stroke-width="1.2"/>
<path d="M135.5 157.5L136.4 157.8L137.3 156.2L138.2 156.1L139.1 156.0L140.0 155.5L140.9 156.6L141.8 154.8L142.7 155.5L143.6 154.5L144.5 153.8L145.4 153.7L146.3 152.6L147.2 152.2L148.1 152.3L149.0 151.2L149.9 150.0L150.8 150.7L151.7 152.2L152.6 154.4L153.5 154.6L154.4 156.1L155.3 157.4L156.2 159.4L157.1 159.4L158.0 160.4L158.9 162.4L159.8 162.7L160.7 163.2L161.6 163.9" stroke="#777" stroke-width="0.75" fill="none"/>
<path d="M162.5 165.20000000000002L178.2 164.9Q184.2 163.00000000000003 190.2 164.8L201 165.20000000000002" stroke="#aaa" stroke-width="0.6" fill="none"/>
<path d="M135.5 165.1L136.4 165.1L137.3 165.2L138.2 165.0L139.1 165.0L140.0 165.2L140.9 165.0L141.8 165.0L142.7 164.9L143.6 165.0L144.5 165.2L145.4 165.1L146.3 165.2L147.2 165.2L148.1 165.2L149.0 165.2L149.9 165.2L150.8 165.0L151.7 165.2L152.6 165.2L153.5 165.1L154.4 165.2L155.3 165.1L156.2 165.2L157.1 165.1L158.0 165.1L158.9 165.0L159.8 165.2L160.7 165.2L161.6 165.2L162.5 164.9L163.4 165.2L164.3 164.8L165.2 164.9L166.1 164.8L167.0 165.2L167.9 164.8L168.8 165.1L169.7 164.9L170.6 164.7L171.5 164.0L172.4 163.9L173.3 163.8L174.2 163.4L175.1 162.8L176.0 162.1L176.9 161.6L177.8 160.7L178.7 159.3L179.6 158.5L180.5 157.1L181.4 154.8L182.3 152.8L183.2 151.0L184.1 148.5L185.0 146.6L185.9 144.6L186.8 145.3L187.7 147.7L188.6 150.1L189.5 152.8L190.4 154.5L191.3 156.6L192.2 158.4L193.1 159.5L194.0 160.8L194.9 161.6L195.8 162.8L196.7 163.1L197.6 163.4L198.5 163.9L199.4 164.1L200.3 164.8L201.2 164.8L202.1 164.6L203.0 164.9L203.9 165.1" stroke="#000" stroke-width="1.15" fill="none" stroke-linejoin="round"/>
<text transform="translate(131.3,163.2) rotate(-90)" font-size="6.8" textLength="21.3" lengthAdjust="spacingAndGlyphs">counts</text>
<text x="171.3" y="179.5" font-size="6.8" textLength="43" lengthAdjust="spacingAndGlyphs">mFoxp3-APC</text>
<text x="133.1" y="171.3" font-size="3" font-weight="normal" fill="#777" stroke="none">10<tspan font-size="2" dy="-1">0</tspan></text>
<text x="160.8" y="171.3" font-size="3" font-weight="normal" fill="#777" stroke="none">10<tspan font-size="2" dy="-1">1</tspan></text>
<text x="188.5" y="171.3" font-size="3" font-weight="normal" fill="#777" stroke="none">10<tspan font-size="2" dy="-1">2</tspan></text>
<text x="216.3" y="171.3" font-size="3" font-weight="normal" fill="#777" stroke="none">10<tspan font-size="2" dy="-1">3</tspan></text>
<text x="244.0" y="171.3" font-size="3" font-weight="normal" fill="#777" stroke="none">10<tspan font-size="2" dy="-1">4</tspan></text>
<line x1="294.1" y1="29.3" x2="294.1" y2="162.3" stroke="#111" stroke-width="1.1"/>
<line x1="294.1" y1="132.0" x2="519.0" y2="132.0" stroke="#111" stroke-width="1.25"/>
<line x1="291.70000000000005" y1="132.0" x2="294.1" y2="132.0" stroke="#111" stroke-width="0.8"/>
<text x="290.7" y="134.4" font-size="6.7" text-anchor="end">0</text>
<line x1="291.70000000000005" y1="111.64" x2="294.1" y2="111.64" stroke="#111" stroke-width="0.8"/>
<text x="290.7" y="114.04" font-size="6.7" text-anchor="end">4000</text>
<line x1="291.70000000000005" y1="91.28" x2="294.1" y2="91.28" stroke="#111" stroke-width="0.8"/>
<text x="290.7" y="93.68" font-size="6.7" text-anchor="end">8000</text>
<line x1="291.70000000000005" y1="70.92" x2="294.1" y2="70.92" stroke="#111" stroke-width="0.8"/>
<text x="290.7" y="73.32000000000001" font-size="6.7" text-anchor="end">12 000</text>
<line x1="291.70000000000005" y1="50.56" x2="294.1" y2="50.56" stroke="#111" stroke-width="0.8"/>
<text x="290.7" y="52.96" font-size="6.7" text-anchor="end">16 000</text>
<line x1="291.70000000000005" y1="30.200000000000003" x2="294.1" y2="30.200000000000003" stroke="#111" stroke-width="0.8"/>
<text x="290.7" y="32.6" font-size="6.7" text-anchor="end">20 000</text>
<text transform="translate(264.3,126.1) rotate(-90)" font-size="6.5" textLength="93.8" lengthAdjust="spacingAndGlyphs">Proliferation of CTLLs (cpm)</text>
<line x1="331.3" y1="132.0" x2="331.3" y2="162.3" stroke="#222" stroke-width="0.8"/>
<line x1="368.8" y1="132.0" x2="368.8" y2="162.3" stroke="#222" stroke-width="0.8"/>
<line x1="406.3" y1="132.0" x2="406.3" y2="147.4" stroke="#222" stroke-width="0.8"/>
<line x1="443.8" y1="132.0" x2="443.8" y2="147.4" stroke="#222" stroke-width="0.8"/>
<line x1="481.3" y1="132.0" x2="481.3" y2="162.3" stroke="#222" stroke-width="0.8"/>
<line x1="518.4" y1="132.0" x2="518.4" y2="162.3" stroke="#222" stroke-width="0.8"/>
<rect x="302.00" y="54.70" width="10.70" height="76.90" fill="#b8b8b8" stroke="#777" stroke-width="0.7"/>
<line x1="307.35" y1="54.7" x2="307.35" y2="49.8" stroke="#888" stroke-width="0.7"/>
<line x1="305.45000000000005" y1="49.8" x2="309.25" y2="49.8" stroke="#666" stroke-width="0.8"/>
<rect x="312.70" y="54.70" width="10.70" height="76.90" fill="#000" stroke="#000" stroke-width="0.7"/>
<line x1="318.04999999999995" y1="54.7" x2="318.04999999999995" y2="47.1" stroke="#777" stroke-width="0.7"/>
<line x1="316.15" y1="47.1" x2="319.94999999999993" y2="47.1" stroke="#666" stroke-width="0.8"/>
<rect x="339.40" y="121.70" width="10.70" height="9.90" fill="#b8b8b8" stroke="#777" stroke-width="0.7"/>
<line x1="344.75" y1="121.7" x2="344.75" y2="119.6" stroke="#888" stroke-width="0.7"/>
<line x1="342.85" y1="119.6" x2="346.65" y2="119.6" stroke="#666" stroke-width="0.8"/>
<rect x="350.10" y="124.40" width="10.70" height="7.20" fill="#000" stroke="#000" stroke-width="0.7"/>
<line x1="355.44999999999993" y1="124.4" x2="355.44999999999993" y2="122.5" stroke="#777" stroke-width="0.7"/>
<line x1="353.54999999999995" y1="122.5" x2="357.3499999999999" y2="122.5" stroke="#666" stroke-width="0.8"/>
<rect x="376.60" y="104.20" width="10.70" height="27.40" fill="#b8b8b8" stroke="#777" stroke-width="0.7"/>
<line x1="381.95000000000005" y1="104.2" x2="381.95000000000005" y2="99.4" stroke="#888" stroke-width="0.7"/>
<line x1="380.05000000000007" y1="99.4" x2="383.85" y2="99.4" stroke="#666" stroke-width="0.8"/>
<rect x="387.30" y="118.20" width="10.70" height="13.40" fill="#000" stroke="#000" stroke-width="0.7"/>
<line x1="392.65" y1="118.2" x2="392.65" y2="113.7" stroke="#777" stroke-width="0.7"/>
<line x1="390.75" y1="113.7" x2="394.54999999999995" y2="113.7" stroke="#666" stroke-width="0.8"/>
<rect x="413.80" y="98.00" width="10.70" height="33.60" fill="#b8b8b8" stroke="#777" stroke-width="0.7"/>
<line x1="419.15" y1="98.0" x2="419.15" y2="94.8" stroke="#888" stroke-width="0.7"/>
<line x1="417.25" y1="94.8" x2="421.04999999999995" y2="94.8" stroke="#666" stroke-width="0.8"/>
<rect x="424.50" y="111.80" width="10.70" height="19.80" fill="#000" stroke="#000" stroke-width="0.7"/>
<line x1="429.85" y1="111.8" x2="429.85" y2="108.3" stroke="#777" stroke-width="0.7"/>
<line x1="427.95000000000005" y1="108.3" x2="431.75" y2="108.3" stroke="#666" stroke-width="0.8"/>
<rect x="451.30" y="83.20" width="10.70" height="48.40" fill="#b8b8b8" stroke="#777" stroke-width="0.7"/>
<line x1="456.65" y1="83.2" x2="456.65" y2="81.3" stroke="#888" stroke-width="0.7"/>
<line x1="454.75" y1="81.3" x2="458.54999999999995" y2="81.3" stroke="#666" stroke-width="0.8"/>
<rect x="462.00" y="102.90" width="10.70" height="28.70" fill="#000" stroke="#000" stroke-width="0.7"/>
<line x1="467.35" y1="102.9" x2="467.35" y2="100.2" stroke="#777" stroke-width="0.7"/>
<line x1="465.45000000000005" y1="100.2" x2="469.25" y2="100.2" stroke="#666" stroke-width="0.8"/>
<rect x="488.50" y="125.20" width="10.80" height="6.40" fill="#b8b8b8" stroke="#777" stroke-width="0.7"/>
<line x1="493.9" y1="125.2" x2="493.9" y2="122.3" stroke="#888" stroke-width="0.7"/>
<line x1="492.0" y1="122.3" x2="495.79999999999995" y2="122.3" stroke="#666" stroke-width="0.8"/>
<path d="M381 91.7V85H395.3V91.7" stroke="#111" stroke-width="1.2" fill="none"/>
<text x="388.1" y="85.0" font-size="6.8" text-anchor="middle">*</text>
<path d="M419.7 91.7V85H433.6V91.7" stroke="#111" stroke-width="1.2" fill="none"/>
<text x="426.7" y="85.0" font-size="6.8" text-anchor="middle">**</text>
<path d="M454.2 78.5V71.6H468.4V78.5" stroke="#111" stroke-width="1.2" fill="none"/>
<text x="461.4" y="71.8" font-size="6.8" text-anchor="middle">***</text>
<text x="306.5" y="146.3" font-size="7.2">CD25<tspan font-size="4.4" dy="-2.6">-</tspan></text>
<text x="343.7" y="146.3" font-size="7.2">CD25<tspan font-size="4.4" dy="-2.6">+</tspan></text>
<text x="382" y="146.3" font-size="7.2" textLength="17.6" lengthAdjust="spacingAndGlyphs">1: 0.5</text>
<text x="417.8" y="146.3" font-size="7.2" textLength="20.8" lengthAdjust="spacingAndGlyphs">1: 0.25</text>
<text x="453.9" y="146.3" font-size="7.2" textLength="24.0" lengthAdjust="spacingAndGlyphs">1: 0.125</text>
<text x="494.4" y="146.3" font-size="7.2" textLength="14.2" lengthAdjust="spacingAndGlyphs">APC</text>
<text x="401" y="160.8" font-size="7.2">CD25<tspan font-size="4.4" dy="-2.6">-</tspan><tspan dy="2.6">/CD25</tspan><tspan font-size="4.4" dy="-2.6">+</tspan><tspan dy="2.6"> ratio</tspan></text>
<rect x="357.70" y="15.20" width="4.30" height="4.30" fill="#b8b8b8" stroke="#555" stroke-width="0.5"/>
<rect x="357.20" y="26.00" width="4.60" height="4.60" fill="#000" stroke="none" stroke-width="1"/>
<text x="368.8" y="20.0" font-size="7.12">Galectin-1 null<tspan font-size="4.4" dy="-2.6">-/-</tspan><tspan dy="2.6"> CD4</tspan><tspan font-size="4.4" dy="-2.6">+</tspan><tspan dy="2.6">CD25</tspan><tspan font-size="4.4" dy="-2.6">+</tspan></text>
<text x="368.8" y="30.9" font-size="7.12">Wild type CD4<tspan font-size="4.4" dy="-2.6">+</tspan><tspan dy="2.6">CD25</tspan><tspan font-size="4.4" dy="-2.6">+</tspan></text>
<line x1="25.9" y1="208.7" x2="25.9" y2="351.0" stroke="#bbb" stroke-width="0.9"/>
<line x1="23.799999999999997" y1="351.0" x2="25.9" y2="351.0" stroke="#ccc" stroke-width="0.7"/>
<text x="21.4" y="353.8" font-size="7" text-anchor="end">0</text>
<line x1="23.799999999999997" y1="336.77" x2="25.9" y2="336.77" stroke="#ccc" stroke-width="0.7"/>
<text x="21.4" y="339.57" font-size="7" text-anchor="end">10</text>
<line x1="23.799999999999997" y1="322.54" x2="25.9" y2="322.54" stroke="#ccc" stroke-width="0.7"/>
<text x="21.4" y="325.34000000000003" font-size="7" text-anchor="end">20</text>
<line x1="23.799999999999997" y1="308.31" x2="25.9" y2="308.31" stroke="#ccc" stroke-width="0.7"/>
<text x="21.4" y="311.11" font-size="7" text-anchor="end">30</text>
<line x1="23.799999999999997" y1="294.08" x2="25.9" y2="294.08" stroke="#ccc" stroke-width="0.7"/>
<text x="21.4" y="296.88" font-size="7" text-anchor="end">40</text>
<line x1="23.799999999999997" y1="279.85" x2="25.9" y2="279.85" stroke="#ccc" stroke-width="0.7"/>
<text x="21.4" y="282.65000000000003" font-size="7" text-anchor="end">50</text>
<line x1="23.799999999999997" y1="265.62" x2="25.9" y2="265.62" stroke="#ccc" stroke-width="0.7"/>
<text x="21.4" y="268.42" font-size="7" text-anchor="end">60</text>
<line x1="23.799999999999997" y1="251.39" x2="25.9" y2="251.39" stroke="#ccc" stroke-width="0.7"/>
<text x="21.4" y="254.19" font-size="7" text-anchor="end">70</text>
<line x1="23.799999999999997" y1="237.16" x2="25.9" y2="237.16" stroke="#ccc" stroke-width="0.7"/>
<text x="21.4" y="239.96" font-size="7" text-anchor="end">80</text>
<line x1="23.799999999999997" y1="222.93" x2="25.9" y2="222.93" stroke="#ccc" stroke-width="0.7"/>
<text x="21.4" y="225.73000000000002" font-size="7" text-anchor="end">90</text>
<line x1="23.799999999999997" y1="208.7" x2="25.9" y2="208.7" stroke="#ccc" stroke-width="0.7"/>
<text x="21.4" y="211.5" font-size="7" text-anchor="end">100</text>
<line x1="25.4" y1="351.0" x2="277.5" y2="351.0" stroke="#aaa" stroke-width="0.9" stroke-dasharray="1.2 1.2"/>
<path d="M25.4 349.8v2.4M29.8 349.8v2.4M34.1 349.8v2.4M38.4 349.8v2.4M42.8 349.8v2.4M47.1 349.8v2.4M51.5 349.8v2.4M55.8 349.8v2.4M60.2 349.8v2.4M64.5 349.8v2.4M68.9 349.8v2.4M73.2 349.8v2.4M77.6 349.8v2.4M81.9 349.8v2.4M86.3 349.8v2.4M90.7 349.8v2.4M95.0 349.8v2.4M99.3 349.8v2.4M103.7 349.8v2.4M108.0 349.8v2.4M112.4 349.8v2.4M116.8 349.8v2.4M121.1 349.8v2.4M125.4 349.8v2.4M129.8 349.8v2.4M134.1 349.8v2.4M138.5 349.8v2.4M142.8 349.8v2.4M147.2 349.8v2.4M151.5 349.8v2.4M155.9 349.8v2.4M160.2 349.8v2.4M164.6 349.8v2.4M168.9 349.8v2.4M173.3 349.8v2.4M177.7 349.8v2.4M182.0 349.8v2.4M186.3 349.8v2.4M190.7 349.8v2.4M195.0 349.8v2.4M199.4 349.8v2.4M203.8 349.8v2.4M208.1 349.8v2.4M212.4 349.8v2.4M216.8 349.8v2.4M221.1 349.8v2.4M225.5 349.8v2.4M229.8 349.8v2.4M234.2 349.8v2.4M238.5 349.8v2.4M242.9 349.8v2.4M247.2 349.8v2.4M251.6 349.8v2.4M255.9 349.8v2.4M260.3 349.8v2.4M264.6 349.8v2.4M269.0 349.8v2.4M273.3 349.8v2.4M277.7 349.8v2.4" stroke="#ccc" stroke-width="0.5" fill="none"/>
<text transform="translate(6.0,300.1) rotate(-90)" font-size="6.4" textLength="50.3" lengthAdjust="spacingAndGlyphs">% Suppression</text>
<line x1="25.4" y1="280.9" x2="196.1" y2="280.9" stroke="#a4a4a4" stroke-width="1.2"/>
<line x1="127.5" y1="280.9" x2="127.5" y2="351.0" stroke="#a4a4a4" stroke-width="1.2"/>
<line x1="195.6" y1="280.9" x2="195.6" y2="351.0" stroke="#a4a4a4" stroke-width="1.2"/>
<text x="33.3" y="289.3" font-size="6.8" textLength="16.6" lengthAdjust="spacingAndGlyphs">IC 50</text>
<line x1="68.0" y1="212.4" x2="68.0" y2="248.5" stroke="#d8d8d8" stroke-width="0.7"/>
<line x1="66.2" y1="212.4" x2="69.8" y2="212.4" stroke="#d8d8d8" stroke-width="0.7"/>
<line x1="66.2" y1="248.5" x2="69.8" y2="248.5" stroke="#d8d8d8" stroke-width="0.7"/>
<line x1="68.0" y1="242.7" x2="68.0" y2="268.6" stroke="#d8d8d8" stroke-width="0.7"/>
<line x1="66.2" y1="242.7" x2="69.8" y2="242.7" stroke="#d8d8d8" stroke-width="0.7"/>
<line x1="66.2" y1="268.6" x2="69.8" y2="268.6" stroke="#d8d8d8" stroke-width="0.7"/>
<line x1="172.9" y1="292" x2="172.9" y2="311.5" stroke="#d8d8d8" stroke-width="0.7"/>
<line x1="171.1" y1="292" x2="174.70000000000002" y2="292" stroke="#d8d8d8" stroke-width="0.7"/>
<line x1="171.1" y1="311.5" x2="174.70000000000002" y2="311.5" stroke="#d8d8d8" stroke-width="0.7"/>
<line x1="224.6" y1="321.7" x2="224.6" y2="342.3" stroke="#d8d8d8" stroke-width="0.7"/>
<line x1="222.79999999999998" y1="321.7" x2="226.4" y2="321.7" stroke="#d8d8d8" stroke-width="0.7"/>
<line x1="222.79999999999998" y1="342.3" x2="226.4" y2="342.3" stroke="#d8d8d8" stroke-width="0.7"/>
<path d="M68.0 230.5L172.8 267.6L224.6 294.8" stroke="#111" stroke-width="1.3" stroke-dasharray="1.9 3.3" fill="none"/>
<path d="M68.0 254.2L172.9 301.7L224.6 333" stroke="#111" stroke-width="1" fill="none"/>
<rect x="64.90" y="227.40" width="6.20" height="6.20" fill="#000" stroke="none" stroke-width="1"/>
<rect x="169.70" y="264.50" width="6.20" height="6.20" fill="#000" stroke="none" stroke-width="1"/>
<rect x="221.50" y="291.70" width="6.20" height="6.20" fill="#000" stroke="none" stroke-width="1"/>
<path d="M65.1 254.2L68.0 251.39999999999998L70.9 254.2L68.0 257.0z" fill="#fff" stroke="#000" stroke-width="0.9"/>
<path d="M170.0 301.7L172.9 298.9L175.8 301.7L172.9 304.5z" fill="#fff" stroke="#000" stroke-width="0.9"/>
<path d="M221.7 333L224.6 330.2L227.5 333L224.6 335.8z" fill="#fff" stroke="#000" stroke-width="0.9"/>
<text x="69.0" y="366.3" font-size="7" text-anchor="middle">0.5</text>
<text x="173.8" y="366.1" font-size="7" text-anchor="middle">0.25</text>
<text x="225.0" y="364.9" font-size="7" text-anchor="middle">0.125</text>
<text x="276.3" y="364.9" font-size="7" text-anchor="middle">0.0</text>
<text x="93.7" y="377.1" font-size="7">CD25<tspan font-size="4.4" dy="-2.6">+</tspan><tspan dy="2.6">/CD25</tspan><tspan font-size="4.4" dy="-2.6">-</tspan><tspan dy="2.6"> ratio</tspan></text>
<line x1="122.8" y1="206.8" x2="149" y2="206.8" stroke="#111" stroke-width="1"/>
<path d="M132.7 206.8L135.6 204.0L138.5 206.8L135.6 209.60000000000002z" fill="#fff" stroke="#000" stroke-width="0.9"/>
<text x="153.8" y="208.2" font-size="7" textLength="96.2" lengthAdjust="spacingAndGlyphs">Galectin-1 null-/- CD4+CD25+</text>
<line x1="123.5" y1="221.5" x2="149" y2="221.5" stroke="#111" stroke-width="1.3" stroke-dasharray="1.9 3.3"/>
<rect x="133.00" y="218.50" width="6.00" height="6.00" fill="#000" stroke="none" stroke-width="1"/>
<text x="156.4" y="223" font-size="7">Wild type CD4<tspan font-size="4.4" dy="-2.6">+</tspan><tspan dy="2.6">CD25</tspan><tspan font-size="4.4" dy="-2.6">+</tspan></text>
</g></svg></body></html>
